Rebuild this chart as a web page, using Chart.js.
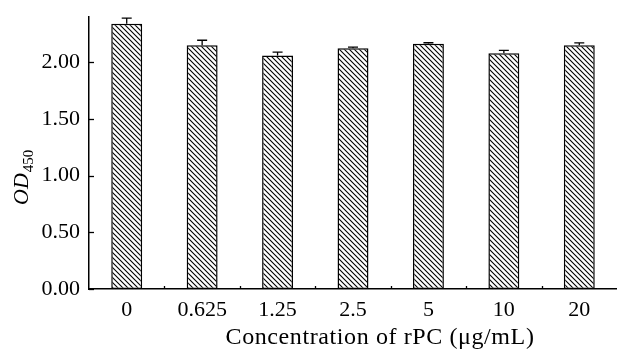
<!DOCTYPE html>
<html>
<head>
<meta charset="utf-8">
<script src="https://cdn.jsdelivr.net/npm/chart.js@4/dist/chart.umd.min.js"></script>
<style>
html,body{margin:0;padding:0;background:#fff;}
#wrap{width:617px;height:349px;position:relative;}
</style>
</head>
<body>
<div id="wrap"><canvas id="c" width="617" height="349"></canvas></div>
<script>
const categories = ["0", "0.625", "1.25", "2.5", "5", "10", "20"];
const odValues = [2.34, 2.15, 2.06, 2.125, 2.165, 2.08, 2.15];
const odErrors = [0.05, 0.045, 0.03, 0.01, 0.008, 0.025, 0.022];
const yTicks = [0, 0.5, 1.0, 1.5, 2.0];
const yMax = 2.4;
const xTitle = "Concentration of rPC (\u03bcg/mL)";
const yTitleMain = "OD";
const yTitleSub = "450";

function makeHatch() {
  const s = 5;
  const p = document.createElement('canvas');
  p.width = s; p.height = s;
  const g = p.getContext('2d');
  g.fillStyle = '#fff';
  g.fillRect(0, 0, s, s);
  g.strokeStyle = '#000';
  g.lineWidth = 1.1;
  g.beginPath();
  g.moveTo(-1, -1); g.lineTo(s + 1, s + 1);
  g.moveTo(-1, s - 1); g.lineTo(1, s + 1);
  g.moveTo(s - 1, -1); g.lineTo(s + 1, 1);
  g.stroke();
  return g.createPattern(p, 'repeat');
}

const FONT = "'Liberation Serif', 'Times New Roman', serif";

const decor = {
  id: 'decor',
  afterDatasetsDraw(chart) {
    const ctx = chart.ctx;
    const x = chart.scales.x, y = chart.scales.y;
    const meta = chart.getDatasetMeta(0);
    ctx.save();
    ctx.strokeStyle = '#000';
    ctx.lineWidth = 1.3;
    // error bars (upper)
    meta.data.forEach((bar, i) => {
      const top = y.getPixelForValue(odValues[i] + odErrors[i]);
      const base = y.getPixelForValue(odValues[i]);
      ctx.beginPath();
      ctx.moveTo(bar.x, base);
      ctx.lineTo(bar.x, top);
      ctx.moveTo(bar.x - 5, top);
      ctx.lineTo(bar.x + 5, top);
      ctx.stroke();
    });
    // y ticks (inward)
    const ax = chart.chartArea.left;
    yTicks.forEach(v => {
      const py = Math.round(y.getPixelForValue(v)) + 0.5;
      ctx.beginPath();
      ctx.moveTo(ax, py);
      ctx.lineTo(ax + 5, py);
      ctx.stroke();
    });
    // x minor ticks at category boundaries (inward)
    const by = chart.chartArea.bottom;
    for (let i = 0; i < categories.length - 1; i++) {
      const px = Math.round((x.getPixelForValue(i) + x.getPixelForValue(i + 1)) / 2) + 0.5;
      ctx.beginPath();
      ctx.moveTo(px, by);
      ctx.lineTo(px, by - 3);
      ctx.stroke();
    }
    // x title
    ctx.fillStyle = '#000';
    ctx.save();
    ctx.font = "24px " + FONT;
    try { ctx.letterSpacing = '0.6px'; } catch (e) {}
    ctx.textAlign = 'center';
    ctx.textBaseline = 'alphabetic';
    ctx.fillText(xTitle, 380, 344);
    ctx.restore();
    // y title
    ctx.translate(28, 205);
    ctx.rotate(-Math.PI / 2);
    ctx.textBaseline = 'alphabetic';
    ctx.textAlign = 'left';
    ctx.font = "italic 22px " + FONT;
    ctx.fillText(yTitleMain, 0, 0);
    const w = ctx.measureText(yTitleMain).width;
    ctx.font = "15px " + FONT;
    ctx.fillText(yTitleSub, w + 1, 5);
    ctx.restore();
  }
};

new Chart(document.getElementById('c'), {
  type: 'bar',
  data: {
    labels: categories,
    datasets: [{
      data: odValues,
      backgroundColor: makeHatch(),
      borderColor: '#000',
      borderWidth: 1.5,
      borderSkipped: false,
      barPercentage: 0.41,
      categoryPercentage: 1.0
    }]
  },
  options: {
    responsive: false,
    animation: false,
    devicePixelRatio: 1,
    layout: { padding: { top: 17, right: 0, left: 0, bottom: 0 } },
    plugins: { legend: { display: false }, tooltip: { enabled: false } },
    scales: {
      x: {
        grid: { display: false, drawTicks: false },
        border: { display: true, color: '#000', width: 1.5 },
        ticks: { color: '#000', font: { family: FONT, size: 22 }, padding: 8, maxRotation: 0, autoSkip: false },
        title: { display: false },
        afterFit(s) { s.height = 60; s.paddingLeft = 0; s.paddingRight = 0; }
      },
      y: {
        min: 0, max: yMax,
        grid: { display: false, drawTicks: false },
        border: { display: true, color: '#000', width: 1.5 },
        afterBuildTicks(s) { s.ticks = yTicks.map(v => ({ value: v })); },
        ticks: { color: '#000', font: { family: FONT, size: 22 }, padding: 9, callback: v => Number(v).toFixed(2) },
        afterFit(s) { s.width = 89; s.paddingTop = 0; s.paddingBottom = 0; }
      }
    }
  },
  plugins: [decor]
});
</script>
</body>
</html>
